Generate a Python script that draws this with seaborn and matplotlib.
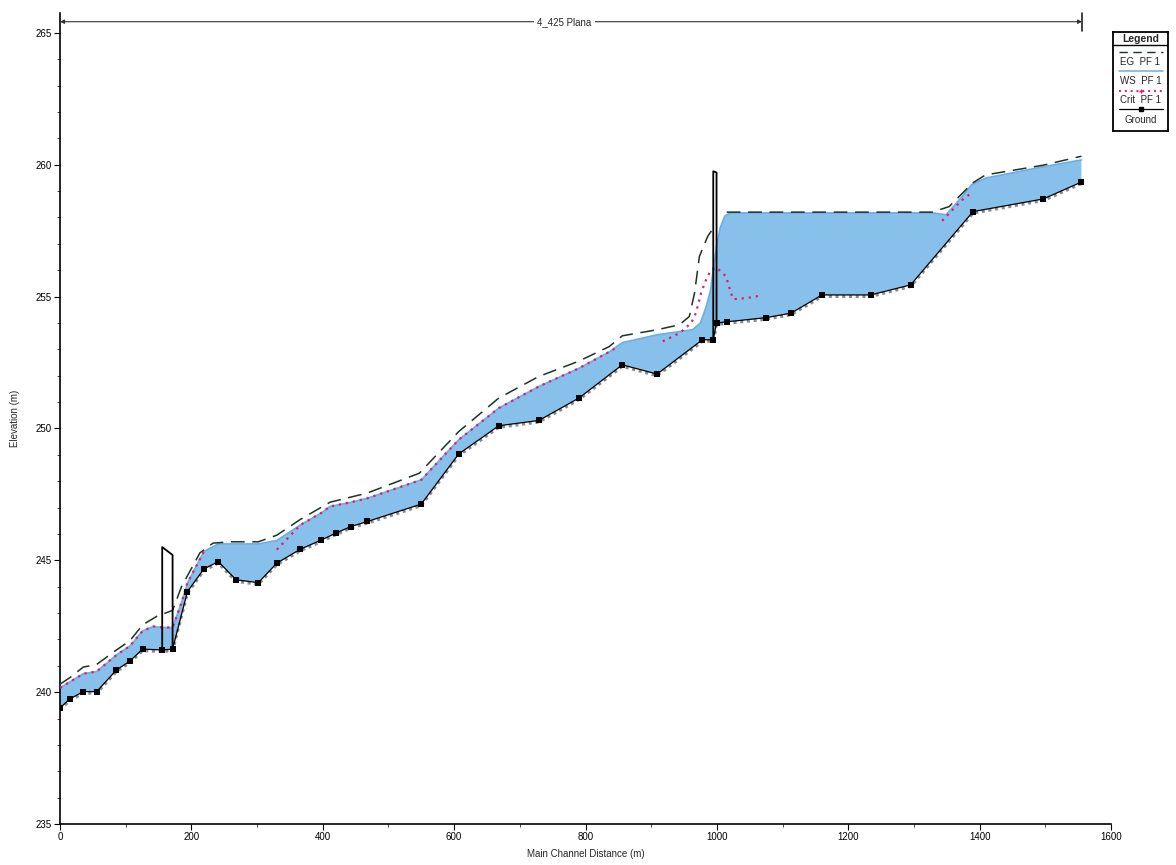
import numpy as np
import pandas as pd
import matplotlib
matplotlib.use("Agg")
import matplotlib.pyplot as plt
from matplotlib.ticker import MultipleLocator
import seaborn as sns

# ---------------- data ----------------
ground_x = [0, 15, 35.5, 55.8, 86, 106.5, 125.7, 155.6, 171.4, 194, 219, 241, 268, 302,
            330, 366, 398, 420, 443, 468, 550, 607, 668, 729, 790, 856, 909, 978, 994.5,
            999.5, 1015, 1075, 1113, 1160, 1234, 1295, 1390, 1497, 1555]
ground_y = [239.40, 239.74, 240.02, 240.02, 240.84, 241.18, 241.63, 241.60, 241.63, 243.81,
            244.67, 244.95, 244.26, 244.15, 244.89, 245.42, 245.77, 246.03, 246.28, 246.47,
            247.13, 249.03, 250.10, 250.30, 251.15, 252.41, 252.06, 253.36, 253.36,
            254.00, 254.04, 254.20, 254.37, 255.06, 255.06, 255.44, 258.22, 258.70, 259.34]

ws_x = [0, 35.5, 55.8, 86, 106.5, 125.7, 142, 155.6, 171.4, 185, 194, 219, 241, 268, 302,
        330, 366, 398, 411, 443, 468, 550, 607, 668, 729, 790, 836, 856, 909, 963, 975,
        983.5, 990, 994.5, 999.5, 1005, 1012, 1020, 1113, 1234, 1328, 1349, 1370, 1388,
        1409, 1497, 1555]
ws_y = [240.16, 240.70, 240.78, 241.41, 241.75, 242.32, 242.49, 242.45, 242.45, 243.40,
        244.14, 245.33, 245.62, 245.62, 245.62, 245.75, 246.34, 246.80, 247.04, 247.20,
        247.35, 248.05, 249.57, 250.77, 251.59, 252.28, 252.90, 253.25, 253.55, 253.74,
        254.00, 254.60, 255.20, 256.00, 256.90, 257.60, 258.05, 258.17, 258.17, 258.17,
        258.17, 258.10, 258.70, 259.24, 259.49, 259.92, 260.18]

eg_x = [0, 15, 35.5, 55.8, 86, 106.5, 125.7, 147, 171.4, 185, 213, 233, 260, 302, 330, 366,
        411, 468, 547, 607, 668, 729, 789, 836, 856, 909, 943, 958, 966, 973.4, 986, 992]
eg_y = [240.30, 240.55, 240.95, 241.05, 241.60, 241.95, 242.55, 242.87, 243.10, 244.00,
        245.28, 245.65, 245.70, 245.70, 245.95, 246.55, 247.20, 247.55, 248.30, 249.88,
        251.15, 251.97, 252.54, 253.10, 253.51, 253.74, 253.93, 254.24, 255.13, 256.52,
        257.28, 257.50]
eg2_x = [1015, 1113, 1234, 1328, 1353.6, 1389, 1409, 1497, 1555]
eg2_y = [258.20, 258.20, 258.20, 258.20, 258.41, 259.30, 259.61, 259.98, 260.32]

crit_seg = [1] * 12 + [2] * 13 + [3] * 14 + [4] * 4
crit_x = [0, 35.5, 55.8, 86, 106.5, 125.7, 142, 155.6, 171.4, 185, 194, 219,
          330, 366, 398, 411, 443, 468, 550, 607, 668, 729, 790, 836, 846,
          917.6, 943, 960.7, 968, 976, 983.5, 991, 999.5, 1014, 1021.5, 1025, 1044, 1055, 1065,
          1343, 1361, 1374, 1387]
crit_y = [240.16, 240.70, 240.78, 241.41, 241.75, 242.32, 242.49, 242.45, 242.45, 243.40,
          244.14, 245.33,
          245.40, 246.34, 246.80, 247.04, 247.20, 247.35, 248.05, 249.57, 250.77, 251.59,
          252.28, 252.90, 253.05,
          253.30, 253.61, 253.99, 254.37, 255.13, 255.63, 256.00, 256.10, 255.76, 255.13,
          254.90, 254.94, 254.98, 255.03,
          257.87, 258.35, 258.67, 258.92]

# bridge outlines: (station, elevation) of deck sides
bridge1_x = [155.6, 155.6, 171.4, 171.4]
bridge1_y = [241.60, 245.50, 245.20, 241.63]
bridge2_x = [994.5, 994.5, 999.5, 999.5]
bridge2_y = [253.36, 259.75, 259.70, 254.00]

reach_label = "4_425 Plana"
reach_end = 1556

x_ticks = [0, 200, 400, 600, 800, 1000, 1200, 1400, 1600]
y_ticks = [235, 240, 245, 250, 255, 260, 265]

legend_labels = ["EG  PF 1", "WS  PF 1", "Crit  PF 1", "Ground"]

# ---------------- style ----------------
sns.set_theme(style="white")
plt.rcParams["font.family"] = ["Liberation Sans Narrow", "Liberation Sans", "DejaVu Sans"]

WATER = "#88c0ec"
WS_LINE = "#6aaee6"
EG_COL = "#1e3320"
CRIT_COL = "#e8176a"

fig = plt.figure(figsize=(11.76, 8.65), dpi=100)
ax = fig.add_axes([60 / 1176, 41 / 865, 1051 / 1176, 811 / 865])

gdf = pd.DataFrame({"x": ground_x, "y": ground_y})
wdf = pd.DataFrame({"x": ws_x, "y": ws_y})
edf = pd.concat([pd.DataFrame({"x": eg_x, "y": eg_y, "u": 1}),
                 pd.DataFrame({"x": eg2_x, "y": eg2_y, "u": 2})])
cdf = pd.DataFrame({"x": crit_x, "y": crit_y, "u": crit_seg})

# water fill between water surface and ground
ax.fill(np.concatenate([wdf.x, gdf.x[::-1]]), np.concatenate([wdf.y, gdf.y[::-1]]),
        color=WATER, lw=0, zorder=1)

sns.lineplot(data=wdf, x="x", y="y", sort=False, estimator=None, color=WS_LINE,
             lw=1.2, ax=ax, zorder=2)
sns.lineplot(data=edf, x="x", y="y", units="u", sort=False, estimator=None, color=EG_COL,
             lw=1.1, ax=ax, zorder=4, dashes=False, linestyle=(0, (9, 5)))
sns.lineplot(data=cdf, x="x", y="y", units="u", sort=False, estimator=None, color=CRIT_COL,
             lw=1.6, ax=ax, zorder=5, linestyle=(0, (1, 2.2)))
# ground: gray serrated edge + black line with section markers
ax.plot(gdf.x, gdf.y - 0.06, color="#8c8c8c", lw=2.2, ls=(0, (1, 1.2)), zorder=3)
sns.lineplot(data=gdf, x="x", y="y", sort=False, estimator=None, color="black", lw=0.9,
             marker="s", markersize=4.2, markeredgewidth=0, ax=ax, zorder=6)

for bx, by in [(bridge1_x, bridge1_y), (bridge2_x, bridge2_y)]:
    ax.plot(bx, by, color="black", lw=1.3, zorder=7)

# reach annotation
ax.annotate("", xy=(0, 265.42), xytext=(reach_end, 265.42),
            arrowprops=dict(arrowstyle="<|-|>", lw=0.8, color="#333333",
                            mutation_scale=6, shrinkA=0, shrinkB=0),
            annotation_clip=False)
ax.plot([reach_end, reach_end], [265.05, 265.75], color="#222222", lw=1.2, clip_on=False)
ax.text(reach_end / 2 - 10, 265.42, reach_label, ha="center", va="center", fontsize=7,
        bbox=dict(facecolor="white", edgecolor="none", pad=2.5))

# axes
ax.set_xlim(0, 1600)
ax.set_ylim(235, 265.75)
ax.set_xticks(x_ticks)
ax.set_yticks(y_ticks)
ax.xaxis.set_minor_locator(MultipleLocator(100))
ax.yaxis.set_minor_locator(MultipleLocator(1))
ax.tick_params(axis="both", which="major", direction="out", length=4, width=0.8,
               labelsize=7, colors="black", bottom=True, left=True, pad=2)
ax.tick_params(axis="both", which="minor", direction="out", length=2.5, width=0.6,
               bottom=True, left=True)
for s in ["top", "right"]:
    ax.spines[s].set_visible(False)
for s in ["left", "bottom"]:
    ax.spines[s].set_color("black")
    ax.spines[s].set_linewidth(1.2)
ax.set_xlabel("Main Channel Distance (m)", fontsize=7, labelpad=5)
ax.set_ylabel("Elevation (m)", fontsize=7, labelpad=11)

# legend box (HEC-RAS style: line sample above each label)
lax = fig.add_axes([1113 / 1176, 1 - 131 / 865, 55 / 1176, 99 / 865])
lax.set_xlim(0, 1)
lax.set_ylim(0, 1)
lax.set_xticks([])
lax.set_yticks([])
for s in lax.spines.values():
    s.set_visible(True)
    s.set_color("black")
    s.set_linewidth(1.3)
lax.text(0.5, 0.925, "Legend", ha="center", va="center", fontsize=7.5, fontweight="bold")
lax.plot([0, 1], [0.865, 0.865], color="black", lw=1.0)
sx = [0.1, 0.9]
lax.plot(sx, [0.80, 0.80], color=EG_COL, lw=1.0, ls=(0, (6, 4)))
lax.plot(sx, [0.606, 0.606], color=WS_LINE, lw=1.1)
lax.plot(sx, [0.407, 0.407], color=CRIT_COL, lw=1.4, ls=(0, (1, 2)))
lax.plot([0.5], [0.407], marker="+", color=CRIT_COL, ms=3)
lax.plot(sx, [0.219, 0.219], color="black", lw=0.9)
lax.plot([0.5], [0.219], marker="s", color="black", ms=3.5)
for yy, lab in zip([0.70, 0.505, 0.313, 0.111], legend_labels):
    lax.text(0.5, yy, lab, ha="center", va="center", fontsize=7)

fig.savefig("out.png", dpi=100, facecolor="white")
